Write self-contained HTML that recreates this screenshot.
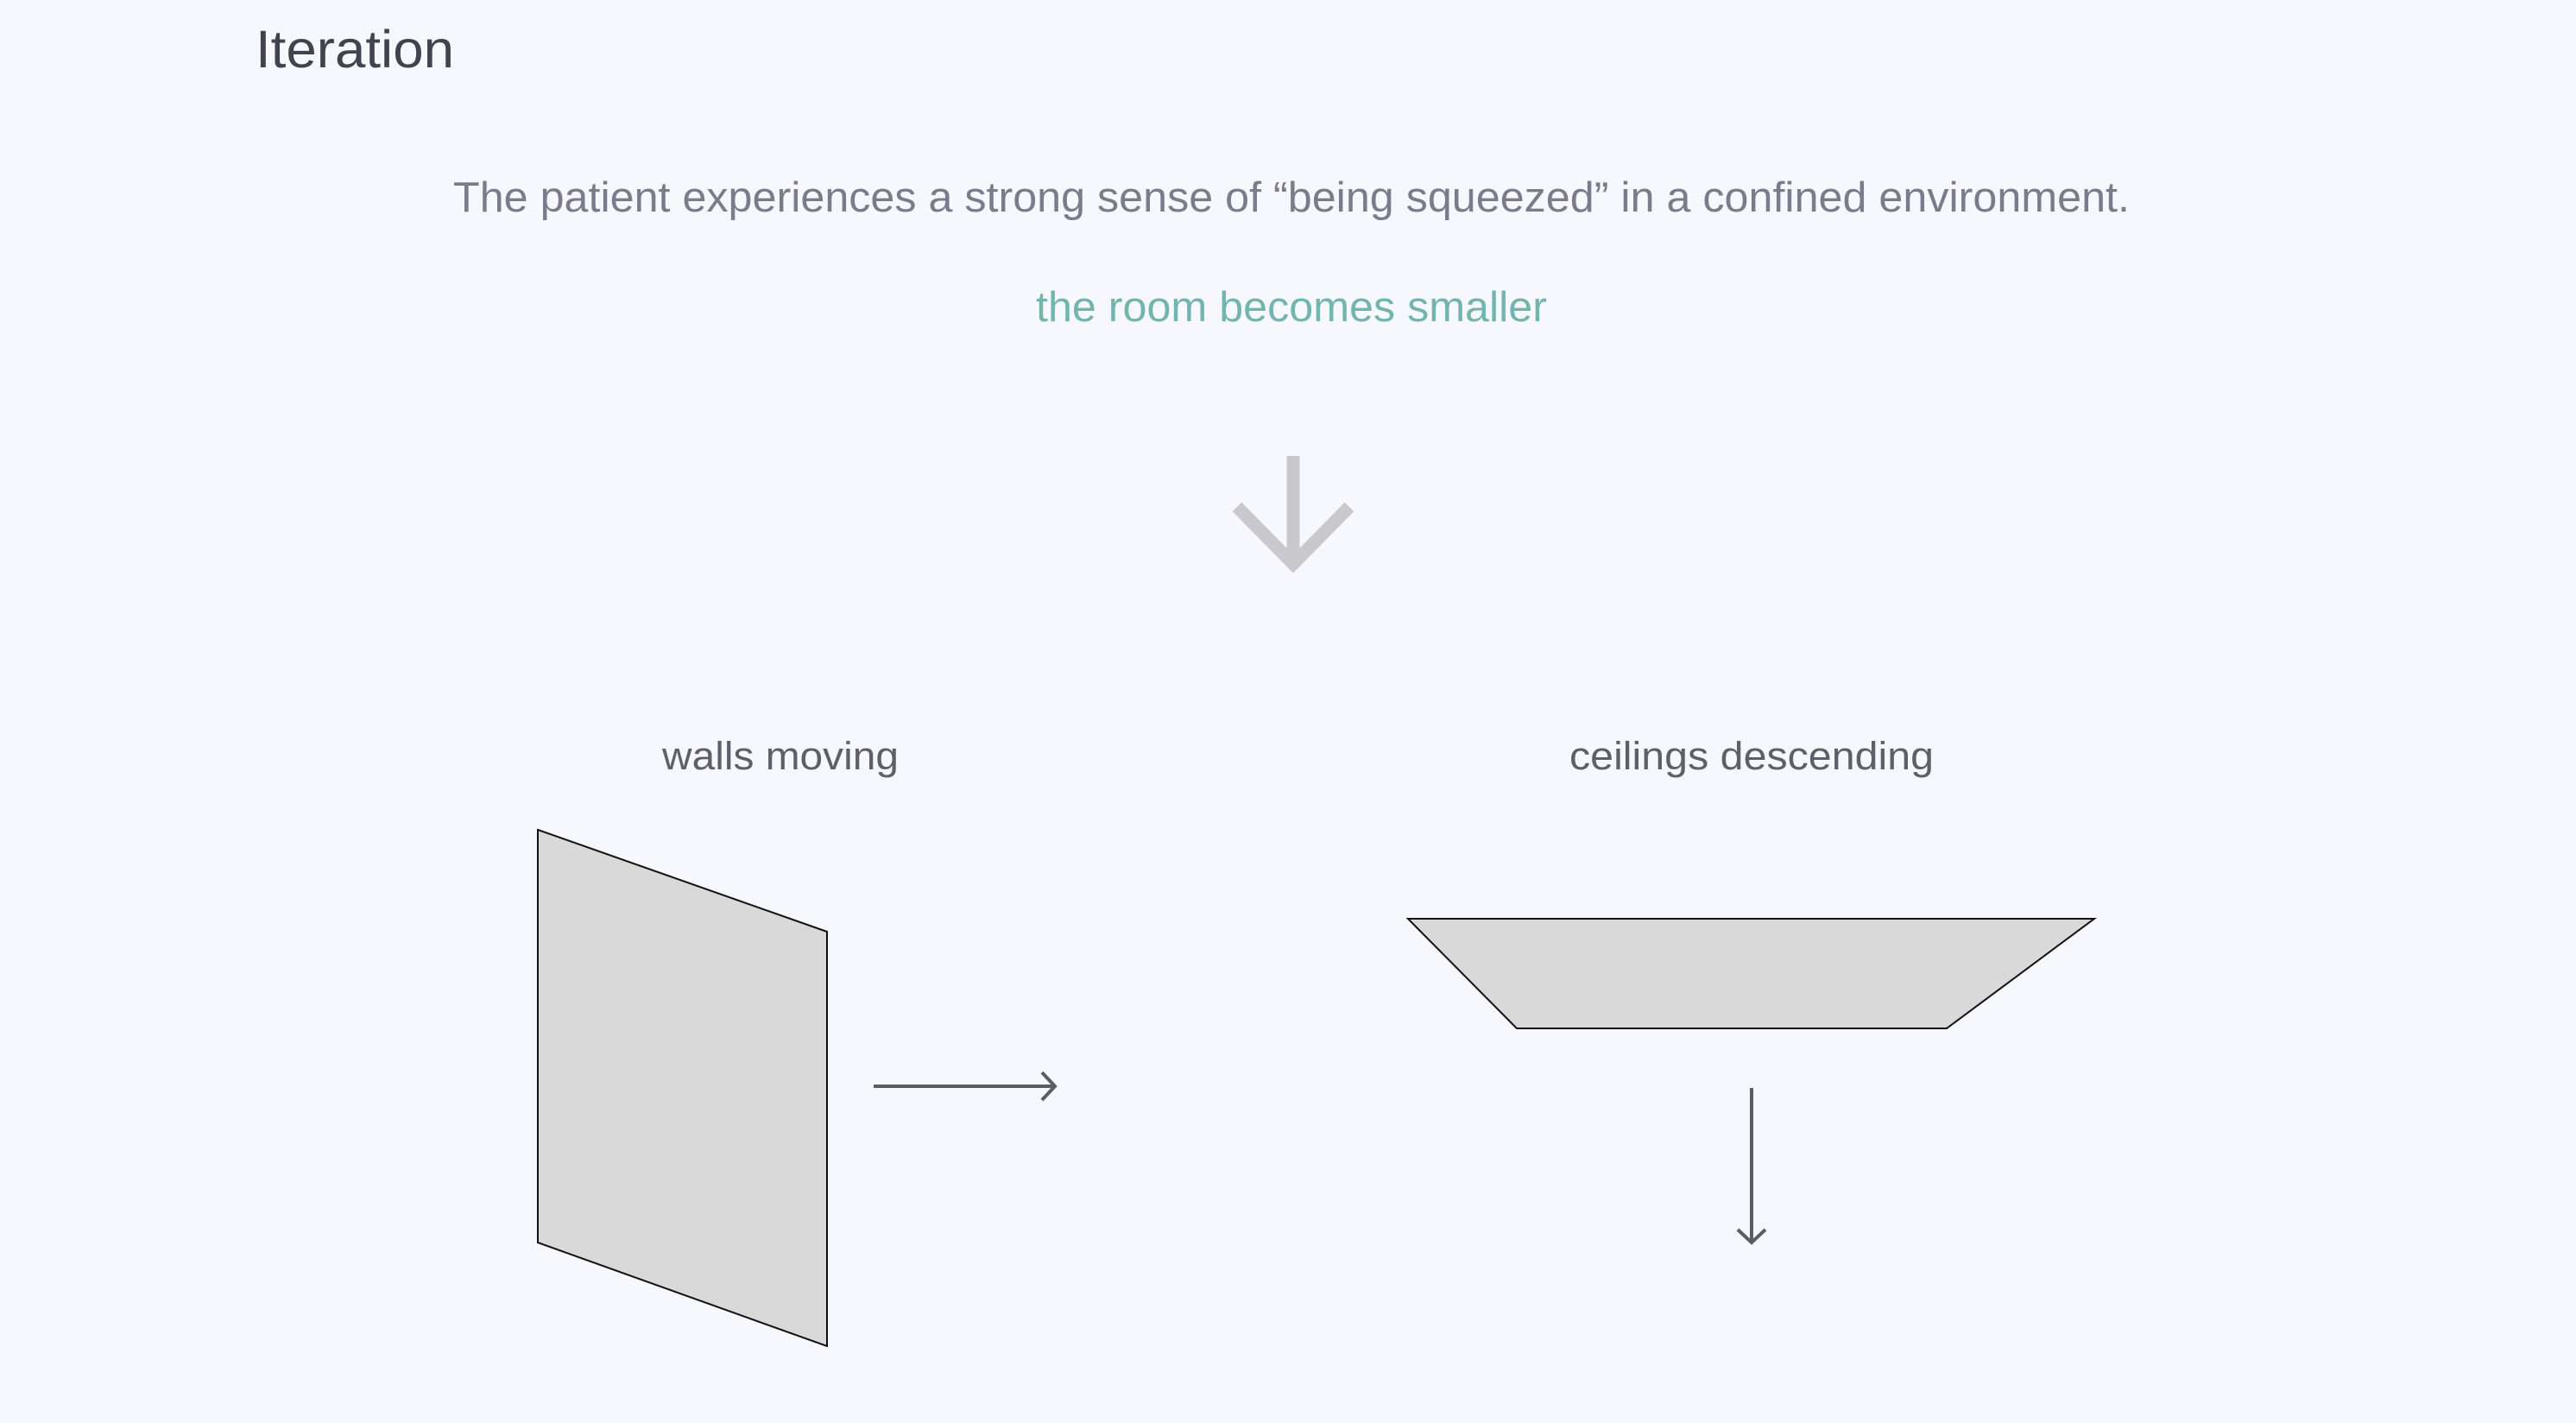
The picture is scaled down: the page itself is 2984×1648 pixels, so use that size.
<!DOCTYPE html>
<html><head><meta charset="utf-8"><style>
html,body{margin:0;padding:0;background:#f7f8fd;}
svg{display:block;}
text{font-family:"Liberation Sans",sans-serif;}
</style></head><body>
<svg width="2984" height="1648" viewBox="0 0 2984 1648" xmlns="http://www.w3.org/2000/svg">
<rect width="2984" height="1648" fill="#f7f8fd"/>
<text x="296" y="78" font-size="61" fill="#43434f" textLength="230" lengthAdjust="spacingAndGlyphs">Iteration</text>
<text x="1496" y="245" font-size="49" fill="#7c7b8c" text-anchor="middle" textLength="1942" lengthAdjust="spacingAndGlyphs">The patient experiences a strong sense of “being squeezed” in a confined environment.</text>
<text x="1496" y="372" font-size="49" fill="#72b4ae" text-anchor="middle" textLength="592" lengthAdjust="spacingAndGlyphs">the room becomes smaller</text>
<g stroke="#c8c8cd" stroke-width="15" fill="none">
<line x1="1498" y1="528" x2="1498" y2="655"/>
<polyline points="1433,587 1498,653 1563,587"/>
</g>
<text x="904" y="891" font-size="45" fill="#5f5f6b" text-anchor="middle" textLength="274" lengthAdjust="spacingAndGlyphs">walls moving</text>
<text x="2029" y="891" font-size="45" fill="#5f5f6b" text-anchor="middle" textLength="422" lengthAdjust="spacingAndGlyphs">ceilings descending</text>
<polygon points="623,961 958,1079 958,1559 623,1439" fill="#d9d9d9" stroke="#111" stroke-width="2"/>
<polygon points="1631,1064 2426,1064 2255,1191 1757,1191" fill="#d9d9d9" stroke="#111" stroke-width="2"/>
<g stroke="#5c5c66" stroke-width="4" fill="none">
<line x1="1012" y1="1258" x2="1222" y2="1258"/>
<polyline points="1207,1242 1222,1258 1207,1274"/>
<line x1="2029" y1="1260" x2="2029" y2="1439"/>
<polyline points="2013,1424 2029,1439 2045,1424"/>
</g>
</svg>
</body></html>
